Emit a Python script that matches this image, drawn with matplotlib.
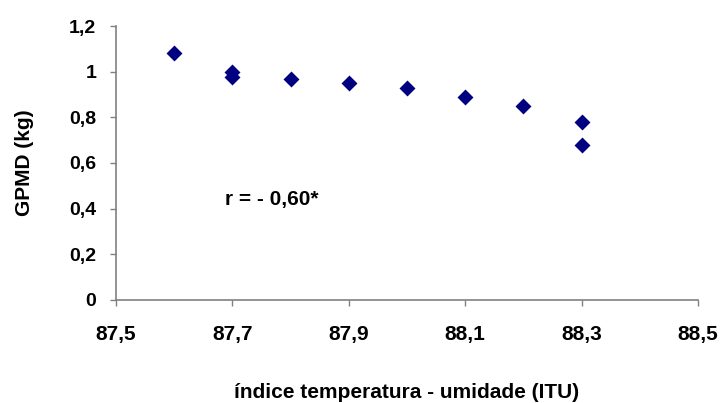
import matplotlib
matplotlib.use("Agg")
import matplotlib.pyplot as plt
from matplotlib.ticker import FixedLocator

# ITU values and daily weight gain
itu = [87.6, 87.7, 87.7, 87.8, 87.9, 88.0, 88.1, 88.2, 88.3, 88.3]
gpmd = [1.08, 1.00, 0.975, 0.97, 0.95, 0.93, 0.89, 0.85, 0.78, 0.68]

x_ticks = [87.5, 87.7, 87.9, 88.1, 88.3, 88.5]
x_labels = ["87,5", "87,7", "87,9", "88,1", "88,3", "88,5"]
y_ticks = [0, 0.2, 0.4, 0.6, 0.8, 1.0, 1.2]
y_labels = ["0", "0,2", "0,4", "0,6", "0,8", "1", "1,2"]

plt.rcParams['font.family'] = ['Liberation Sans', 'DejaVu Sans']
plt.rcParams['font.weight'] = 'bold'

fig = plt.figure(figsize=(7.21, 4.03), dpi=100)
# plot area: x 116..698 px, y 26..300 px
ax = fig.add_axes([116 / 721, 1 - 300 / 403, 582 / 721, 274 / 403])

ax.scatter(itu, gpmd, marker='D', s=66, color='#000080', linewidths=0, zorder=3)

ax.set_xlim(87.5, 88.5)
ax.set_ylim(0, 1.2)
ax.xaxis.set_major_locator(FixedLocator(x_ticks))
ax.yaxis.set_major_locator(FixedLocator(y_ticks))
ax.set_xticklabels(x_labels, fontsize=15, fontweight='bold')
ax.set_yticklabels(y_labels, fontsize=14, fontweight='bold')

for side in ['top', 'right']:
    ax.spines[side].set_visible(False)
for side in ['left', 'bottom']:
    ax.spines[side].set_color('#808080')
    ax.spines[side].set_linewidth(1.2)
ax.tick_params(direction='out', length=4.3, color='#808080', width=1)
ax.tick_params(axis='x', pad=14)
ax.tick_params(axis='y', pad=10)

ax.set_xlabel('índice temperatura - umidade (ITU)', fontsize=15,
              fontweight='bold', labelpad=28)
ax.set_ylabel('GPMD (kg)', fontsize=15, fontweight='bold', labelpad=25)

ax.text(87.687, 0.438, 'r = - 0,60*', fontsize=15, fontweight='bold',
        va='center', ha='left')

fig.savefig('out.png', dpi=100)
